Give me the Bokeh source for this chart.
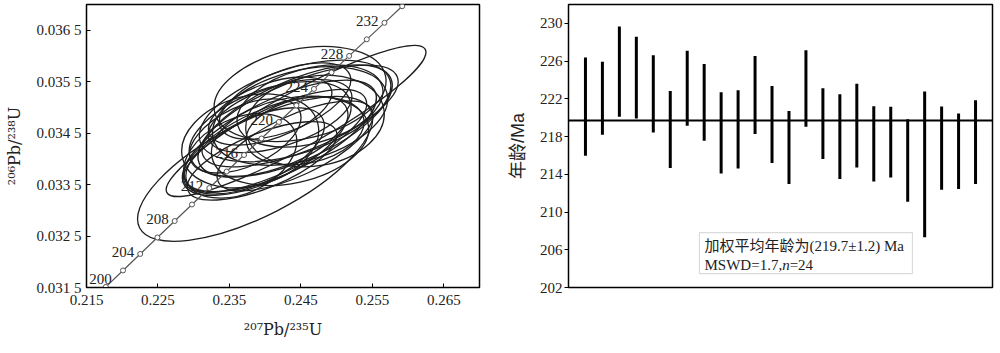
from bokeh.plotting import figure
from bokeh.models import Range1d, FixedTicker, Span, BoxAnnotation, Label, ColumnDataSource
from bokeh.layouts import row
from bokeh.embed import file_html
from bokeh.resources import INLINE
from bokeh.core.properties import value

# ---------------- data ----------------
# Concordia reference points (age in Ma, 207Pb/235U, 206Pb/238U)
conc_age = [200, 202, 204, 206, 208, 210, 212, 214, 216, 218, 220, 222, 224, 226, 228, 230, 232, 234]
conc_x = [0.217708, 0.220109, 0.222515, 0.224925, 0.227340, 0.229760, 0.232185, 0.234614, 0.237048,
          0.239487, 0.241931, 0.244380, 0.246834, 0.249293, 0.251757, 0.254226, 0.256700, 0.259179]
conc_y = [0.031511, 0.031831, 0.032152, 0.032472, 0.032792, 0.033113, 0.033433, 0.033754, 0.034075,
          0.034396, 0.034717, 0.035038, 0.035359, 0.035680, 0.036001, 0.036323, 0.036644, 0.036966]
label_ages = [200, 204, 208, 212, 216, 220, 224, 228, 232]

# Error ellipses (centre, axis lengths, rotation in degrees)
ell_x = [0.23860, 0.24433, 0.24489, 0.24419, 0.24489, 0.24209, 0.24419, 0.24140, 0.24489, 0.24000,
         0.24628, 0.24070, 0.23860, 0.24349, 0.23721, 0.24209, 0.24698, 0.23958, 0.23651, 0.24419,
         0.24070, 0.23791, 0.24559, 0.24279]
ell_y = [0.033806, 0.034736, 0.035260, 0.034736, 0.034833, 0.034446, 0.034930, 0.034349, 0.034833, 0.034252,
         0.035027, 0.034581, 0.034155, 0.034349, 0.034446, 0.034833, 0.034736, 0.033961, 0.034058, 0.034252,
         0.034930, 0.034349, 0.034543, 0.035124]
ell_w = [0.03631, 0.04134, 0.02444, 0.02933, 0.02933, 0.02933, 0.02793, 0.02793, 0.02514, 0.02514,
         0.02095, 0.02374, 0.02095, 0.02235, 0.01676, 0.02095, 0.01955, 0.02235, 0.01676, 0.02374,
         0.01816, 0.01955, 0.01676, 0.01955]
ell_h = [0.001841, 0.001066, 0.001744, 0.001550, 0.001357, 0.001453, 0.001647, 0.001260, 0.001744, 0.001357,
         0.001453, 0.001550, 0.001260, 0.001647, 0.001163, 0.001163, 0.001744, 0.001066, 0.001453, 0.001163,
         0.001066, 0.001744, 0.001260, 0.001163]
ell_ang = [27, 29, 12, 24, 22, 25, 18, 25, 15, 25, 15, 20, 25, 12, 25, 18, 10, 22, 25, 25, 20, 15, 12, 22]

# Weighted mean plot: 2-sigma age ranges of 24 analyses
spot = list(range(1, 25))
age_hi = [226.37, 225.94, 229.68, 228.59, 226.61, 222.84, 227.11, 225.70, 222.70, 222.91, 226.54, 223.37,
          220.72, 227.14, 223.12, 222.49, 223.61, 221.22, 221.15, 219.84, 222.77, 221.18, 220.44, 221.85]
age_lo = [215.96, 218.19, 220.09, 219.91, 218.43, 214.66, 219.14, 217.55, 214.09, 214.62, 218.26, 215.19,
          212.97, 219.03, 215.61, 213.50, 214.73, 213.25, 213.67, 211.10, 207.32, 212.37, 212.44, 212.97]
mean_age = 219.7

x_ticks = [0.215, 0.225, 0.235, 0.245, 0.255, 0.265]
x_tick_labels = ["0.215", "0.225", "0.235", "0.245", "0.255", "0.265"]
y_ticks = [0.0315, 0.0325, 0.0335, 0.0345, 0.0355, 0.0365]
y_tick_labels = ["0.031 5", "0.032 5", "0.033 5", "0.034 5", "0.035 5", "0.036 5"]
age_ticks = [202, 206, 210, 214, 218, 222, 226, 230]

SERIF = "'Liberation Serif', 'Noto Sans CJK SC'"
SANS = "'Liberation Sans', 'Noto Sans CJK SC'"
INK = "#222222"

# ---------------- left: concordia ----------------
p1 = figure(width=500, height=353, output_backend="svg", toolbar_location=None,
            x_range=Range1d(0.215, 0.27), y_range=Range1d(0.0315, 0.037),
            min_border_left=86, min_border_right=21, min_border_top=4, min_border_bottom=66)
p1.grid.visible = False
p1.outline_line_color = "black"
p1.outline_line_width = 1.5

p1.ellipse(x=ell_x, y=ell_y, width=ell_w, height=ell_h, angle=ell_ang, angle_units="deg",
           fill_color=None, line_color="#1e1e1e", line_width=1.3)

p1.line(conc_x, conc_y, line_color="#555555", line_width=1.2)
p1.scatter(conc_x, conc_y, size=5, marker="circle", fill_color="white", line_color="#555555", line_width=1)

lab_x = [x for a, x in zip(conc_age, conc_x) if a in label_ages]
lab_y = [y for a, y in zip(conc_age, conc_y) if a in label_ages]
lab_t = [str(a) for a in conc_age if a in label_ages]
src = ColumnDataSource(dict(x=lab_x[1:], y=lab_y[1:], t=lab_t[1:]))
p1.text(x="x", y="y", text="t", source=src, text_align="right", text_baseline="middle",
        x_offset=-6, y_offset=-2, text_font=value("Liberation Serif"), text_font_size="15px",
        text_color=INK)
p1.text(x=lab_x[:1], y=lab_y[:1], text=lab_t[:1], text_align="right", text_baseline="bottom",
        x_offset=6, y_offset=-3, text_font=value("Liberation Serif"), text_font_size="15px",
        text_color=INK)

for ax in (p1.xaxis, p1.yaxis):
    ax.major_label_text_font = "Liberation Serif"
    ax.major_label_text_font_size = "15px"
    ax.major_label_text_color = INK
    ax.major_tick_in = 4
    ax.major_tick_out = 0
    ax.minor_tick_line_color = None
    ax.axis_line_color = "black"
    ax.major_tick_line_color = "black"
    ax.axis_label_text_font = "DejaVu Serif"
    ax.axis_label_text_font_style = "normal"
    ax.axis_label_text_font_size = "16px"
    ax.axis_label_text_color = INK

p1.xaxis.ticker = FixedTicker(ticks=x_ticks)
p1.xaxis.major_label_overrides = dict(zip(x_ticks, x_tick_labels))
p1.yaxis.ticker = FixedTicker(ticks=y_ticks)
p1.yaxis.major_label_overrides = dict(zip(y_ticks, y_tick_labels))
p1.xaxis.major_label_standoff = 7
p1.yaxis.major_label_standoff = 5

p1.xaxis.axis_label = "²⁰⁷Pb/²³⁵U"
p1.xaxis.axis_label_standoff = 12
p1.yaxis.axis_label = "²⁰⁶Pb/²³⁸U"
p1.yaxis.axis_label_standoff = 10

# ---------------- right: weighted mean ----------------
p2 = figure(width=500, height=353, output_backend="svg", toolbar_location=None,
            x_range=Range1d(0, 25), y_range=Range1d(202, 232),
            min_border_left=68, min_border_right=8, min_border_top=4, min_border_bottom=66)
p2.grid.visible = False
p2.outline_line_color = "black"
p2.outline_line_width = 1.5
p2.xaxis.visible = False

p2.segment(x0=spot, y0=age_lo, x1=spot, y1=age_hi, line_color="black", line_width=3)
p2.add_layout(Span(location=mean_age, dimension="width", line_color="black", line_width=2))

p2.yaxis.ticker = FixedTicker(ticks=age_ticks)
p2.yaxis.major_label_text_font = "Liberation Serif"
p2.yaxis.major_label_text_font_size = "15px"
p2.yaxis.major_label_text_color = INK
p2.yaxis.major_tick_in = 0
p2.yaxis.major_tick_out = 4
p2.yaxis.minor_tick_line_color = None
p2.yaxis.major_label_standoff = 2
p2.yaxis.axis_label = "年龄/Ma"
p2.yaxis.axis_label_text_font = SANS
p2.yaxis.axis_label_text_font_style = "normal"
p2.yaxis.axis_label_text_font_size = "18px"
p2.yaxis.axis_label_text_color = INK
p2.yaxis.axis_label_standoff = 9

p2.add_layout(BoxAnnotation(left=7.72, right=20.28, bottom=203.48, top=207.82,
                            fill_color="white", fill_alpha=1.0, line_color="#888888", line_width=1.2))
p2.add_layout(Label(x=8.02, y=206.44, text="加权平均年龄为(219.7±1.2) Ma", text_baseline="middle",
                    text_font=SERIF, text_font_size="15px", text_color=INK))
p2.add_layout(Label(x=8.02, y=204.43, text="MSWD=1.7,", text_baseline="middle",
                    text_font=SERIF, text_font_size="15px", text_color=INK))
p2.add_layout(Label(x=12.60, y=204.43, text="n", text_baseline="middle", text_font_style="italic",
                    text_font=SERIF, text_font_size="15px", text_color=INK))
p2.add_layout(Label(x=13.04, y=204.43, text="=24", text_baseline="middle",
                    text_font=SERIF, text_font_size="15px", text_color=INK))

layout = row(p1, p2)
open("out.html", "w").write(file_html(layout, INLINE))
